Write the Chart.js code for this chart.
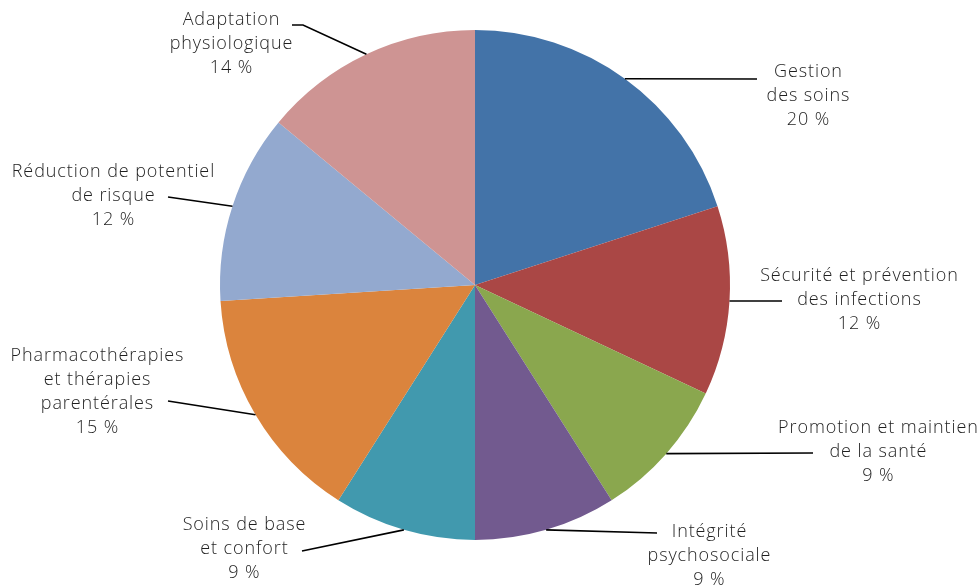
<!DOCTYPE html>
<html>
<head>
<meta charset="utf-8">
<script src="https://cdn.jsdelivr.net/npm/chart.js@4/dist/chart.umd.min.js"></script>
<style>
html,body{margin:0;padding:0;background:#fff;}
#wrap{width:980px;height:586px;position:relative;}
</style>
</head>
<body>
<div id="wrap"><canvas id="c" width="980" height="586"></canvas></div>
<script>
// Data
const categories = [
  ["Gestion", "des soins"],
  ["Sécurité et prévention", "des infections"],
  ["Promotion et maintien", "de la santé"],
  ["Intégrité", "psychosociale"],
  ["Soins de base", "et confort"],
  ["Pharmacothérapies", "et thérapies", "parentérales"],
  ["Réduction de potentiel", "de risque"],
  ["Adaptation", "physiologique"]
];
const values = [20, 12, 9, 9, 9, 15, 12, 14];
const colors = ["#4373A8", "#AA4745", "#8AA74E", "#725A8F", "#4199AE", "#DB843D", "#93A9CF", "#CE9493"];

// Label layout (text block center x, first line y, leader end point x,y, elbow x)
const labelLayout = [
  {x: 808, y: 72,  ex: 757, ey: 79},
  {x: 859, y: 276, ex: 782, ey: 301},
  {x: 878, y: 428, ex: 813, ey: 453},
  {x: 709, y: 532, ex: 657, ey: 533},
  {x: 244, y: 525, ex: 302, ey: 551},
  {x: 97,  y: 356, ex: 168, ey: 401},
  {x: 113, y: 172, ex: 168, ey: 197},
  {x: 231, y: 20,  ex: 292, ey: 25, elbow: 303}
];

const labelPlugin = {
  id: 'leaderLabels',
  afterDatasetsDraw(chart) {
    const ctx = chart.ctx;
    const meta = chart.getDatasetMeta(0);
    ctx.save();
    meta.data.forEach((arc, i) => {
      const p = arc.getProps(['x','y','startAngle','endAngle','outerRadius'], true);
      const mid = (p.startAngle + p.endAngle) / 2;
      const sx = p.x + Math.cos(mid) * p.outerRadius;
      const sy = p.y + Math.sin(mid) * p.outerRadius;
      const L = labelLayout[i];
      ctx.strokeStyle = '#000';
      ctx.lineWidth = 1.6;
      ctx.beginPath();
      ctx.moveTo(sx, sy);
      if (L.elbow !== undefined) {
        ctx.lineTo(L.elbow, L.ey);
      }
      ctx.lineTo(L.ex, L.ey);
      ctx.stroke();
      const lines = categories[i].concat([values[i] + ' %']);
      ctx.fillStyle = '#1f1f1f';
      ctx.font = '300 18px "Open Sans", sans-serif';
      ctx.letterSpacing = '0.9px';
      ctx.textAlign = 'center';
      ctx.textBaseline = 'middle';
      lines.forEach((t, k) => ctx.fillText(t, L.x + 0.45, L.y + k * 24));
    });
    ctx.restore();
  }
};

new Chart(document.getElementById('c'), {
  type: 'pie',
  data: {
    labels: categories.map(c => c.join(' ')),
    datasets: [{
      data: values,
      backgroundColor: colors,
      borderWidth: 0
    }]
  },
  options: {
    responsive: false,
    animation: false,
    layout: {padding: {top: 30, bottom: 46, left: 100, right: 130}},
    plugins: {legend: {display: false}, tooltip: {enabled: false}}
  },
  plugins: [labelPlugin]
});
</script>
</body>
</html>
